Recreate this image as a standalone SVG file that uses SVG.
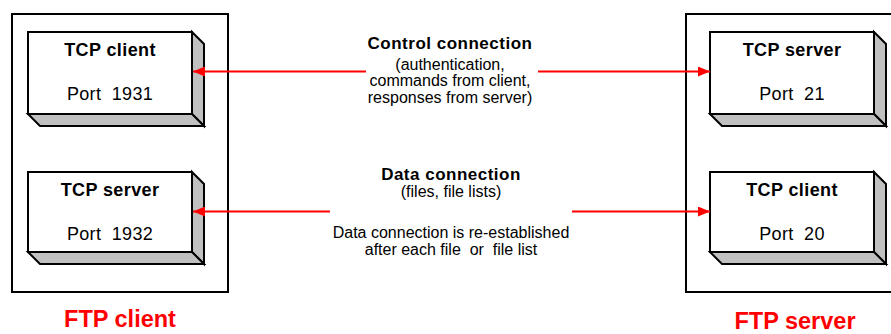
<svg xmlns="http://www.w3.org/2000/svg" width="891" height="334" viewBox="0 0 891 334">
<defs>
<style>
.outer{fill:#fff;stroke:#000;stroke-width:2}
.front{fill:#fff;stroke:#000;stroke-width:2}
.side{fill:#c0c0c0;stroke:#000;stroke-width:2;stroke-linejoin:miter}
.t{font-family:"Liberation Sans",Arial,sans-serif;text-anchor:middle;fill:#000}
.nb{font-size:18px;font-weight:bold;letter-spacing:0.4px}
.nr{font-size:18px;letter-spacing:0.3px}
.cb{font-size:17px;font-weight:bold;letter-spacing:0.5px}
.cr{font-size:16px}
.big{font-family:"Liberation Sans",Arial,sans-serif;text-anchor:middle;fill:#ff0000;font-size:23.5px;font-weight:bold}
.conn{stroke:#ff0000;stroke-width:2;fill:none}
</style>
<marker id="ah" markerWidth="12" markerHeight="10" refX="12" refY="5" orient="auto" markerUnits="userSpaceOnUse">
<path d="M0,0 L12,5 L0,10 Z" fill="#ff0000"/>
</marker>
</defs>
<rect width="891" height="334" fill="#fff"/>
<g id="ftp-client">
<rect class="outer" x="12" y="14" width="216" height="278"/>
<text class="big" x="120" y="327">FTP client</text>
</g>
<g id="ftp-server">
<rect class="outer" x="686" y="14" width="220" height="278"/>
<text class="big" x="795" y="329">FTP server</text>
</g>
<g id="client-tcp-client">
<rect class="front" x="28" y="32" width="164" height="82"/>
<polygon class="side" points="192,32 204,44 204,126 192,114"/>
<polygon class="side" points="28,114 192,114 204,126 40,126"/>
<text class="t nb" x="110" y="56">TCP client</text>
<text class="t nr" x="110" y="100" xml:space="preserve">Port  1931</text>
</g>
<g id="client-tcp-server">
<rect class="front" x="28" y="172" width="164" height="80"/>
<polygon class="side" points="192,172 204,184 204,264 192,252"/>
<polygon class="side" points="28,252 192,252 204,264 40,264"/>
<text class="t nb" x="110" y="196">TCP server</text>
<text class="t nr" x="110" y="240" xml:space="preserve">Port  1932</text>
</g>
<g id="server-tcp-server">
<rect class="front" x="710" y="32" width="164" height="82"/>
<polygon class="side" points="874,32 886,44 886,126 874,114"/>
<polygon class="side" points="710,114 874,114 886,126 722,126"/>
<text class="t nb" x="792" y="56">TCP server</text>
<text class="t nr" x="792" y="100" xml:space="preserve">Port  21</text>
</g>
<g id="server-tcp-client">
<rect class="front" x="710" y="172" width="164" height="80"/>
<polygon class="side" points="874,172 886,184 886,264 874,252"/>
<polygon class="side" points="710,252 874,252 886,264 722,264"/>
<text class="t nb" x="792" y="196">TCP client</text>
<text class="t nr" x="792" y="240" xml:space="preserve">Port  20</text>
</g>
<g id="connectors">
<line class="conn" x1="366" y1="71.5" x2="193" y2="71.5" marker-end="url(#ah)"/>
<line class="conn" x1="538" y1="71.5" x2="710" y2="71.5" marker-end="url(#ah)"/>
<line class="conn" x1="330" y1="211.5" x2="193" y2="211.5" marker-end="url(#ah)"/>
<line class="conn" x1="572" y1="211.5" x2="710" y2="211.5" marker-end="url(#ah)"/>
</g>
<g id="labels">
<text class="t cb" x="450" y="49">Control connection</text>
<text class="t cr" x="450" y="69.5">(authentication,</text>
<text class="t cr" x="450" y="86">commands from client,</text>
<text class="t cr" x="450" y="102.5">responses from server)</text>
<text class="t cb" x="451" y="179.5">Data connection</text>
<text class="t cr" x="451" y="197">(files, file lists)</text>
<text class="t cr" x="451" y="237.5">Data connection is re-established</text>
<text class="t cr" x="451" y="255" xml:space="preserve">after each file  or  file list</text>
</g>
</svg>
